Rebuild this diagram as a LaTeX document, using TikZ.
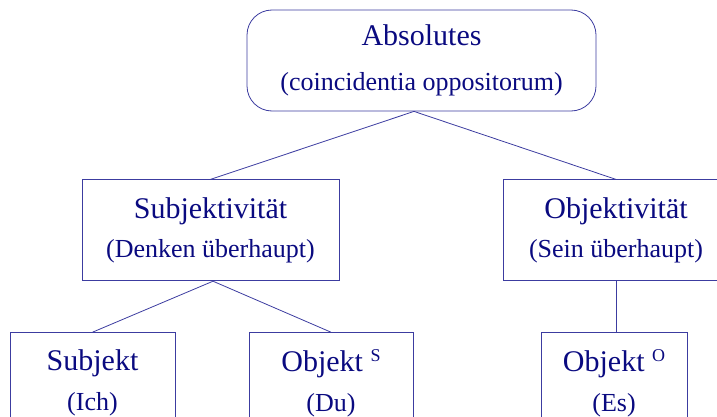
\documentclass[tikz,border=0pt]{standalone}
\usepackage{fontspec}
\setmainfont{Liberation Serif}
\usepackage{xcolor}
\usepackage{tikz}
\usetikzlibrary{positioning}

\definecolor{inkblue}{RGB}{10,10,128}
\definecolor{lineblue}{RGB}{60,60,160}

\newcommand{\subline}[1]{{\fontsize{26}{33}\selectfont #1}}
\newcommand{\supmark}[1]{\raisebox{10pt}{\fontsize{18}{18}\selectfont #1}}

\begin{document}
\begin{tikzpicture}[
    x=1pt, y=1pt,
    node distance=68pt and 0pt,
    rootnode/.style={rectangle, rounded corners=25pt, draw=lineblue, line width=0.8pt, text=inkblue, font=\fontsize{30}{33}\selectfont, minimum width=349pt, minimum height=101pt, inner sep=0pt, align=center},
    midnode/.style={rectangle, draw=lineblue, line width=0.8pt, text=inkblue, font=\fontsize{30}{33}\selectfont, minimum height=101pt, inner sep=0pt, align=center},
    leafnode/.style={midnode},
    link/.style={draw=lineblue, line width=0.8pt}
]
\useasboundingbox (0,0) rectangle (717,416);

% Root
\node[rootnode] (abs) at (421.5,355.5) {Absolutes\\[12pt]\subline{(coincidentia oppositorum)}};

% Two sides
\node[midnode, minimum width=257pt, below=68pt of abs, xshift=-211pt] (subj) {Subjektivität\\[6pt]\subline{(Denken überhaupt)}};
\node[midnode, minimum width=226pt, below=68pt of abs, xshift=194.5pt] (obj) {Objektivität\\[6pt]\subline{(Sein überhaupt)}};

\draw[link] ([xshift=-7.5pt]abs.south) -- (subj.north);
\draw[link] ([xshift=-7.5pt]abs.south) -- (obj.north);

% Leaves
\node[leafnode, minimum width=165pt, below=51pt of subj, xshift=-118pt] (ich) {Subjekt\\[7pt]\subline{(Ich)}};
\node[leafnode, minimum width=164pt, below=51pt of subj, xshift=120.5pt] (du) {Objekt \supmark{S}\\[7pt]\subline{(Du)}};
\node[leafnode, minimum width=146pt, below=51pt of obj, xshift=-2pt] (es) {Objekt \supmark{O}\\[7pt]\subline{(Es)}};

\draw[link] ([xshift=2.5pt]subj.south) -- (ich.north);
\draw[link] ([xshift=2.5pt]subj.south) -- (du.north);
\draw[link] (obj.south) -- (obj.south |- es.north);

\end{tikzpicture}
\end{document}
